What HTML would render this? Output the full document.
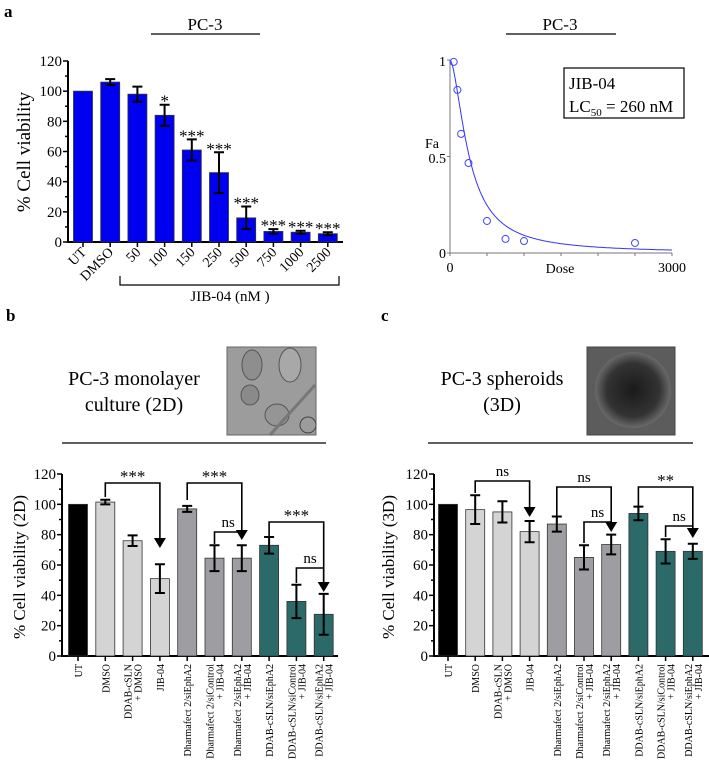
<!DOCTYPE html>
<html><head><meta charset="utf-8">
<style>
html,body{margin:0;padding:0;background:#fff;}
svg, svg text, svg tspan{font-family:"Liberation Serif","DejaVu Serif",serif;}
</style></head>
<body>
<svg id="fig" width="709" height="761" viewBox="0 0 709 761" xmlns="http://www.w3.org/2000/svg" font-family="Liberation Serif, DejaVu Serif, serif">
  <defs>
    <radialGradient id="blob" cx="50%" cy="50%" r="50%">
      <stop offset="0%" stop-color="#1a1a1a"/><stop offset="70%" stop-color="#333"/><stop offset="100%" stop-color="#6a6a6a"/>
    </radialGradient>
  </defs>
  <text x="4" y="17" font-size="17" font-weight="bold">a</text>
  <text x="6" y="321" font-size="17" font-weight="bold">b</text>
  <text x="381" y="321" font-size="17" font-weight="bold">c</text>

  <text x="205" y="30" font-size="17" text-anchor="middle">PC-3</text>
  <line x1="151" y1="34" x2="260" y2="34" stroke="#000" stroke-width="1.2"/>
  <text x="560" y="30" font-size="17" text-anchor="middle">PC-3</text>
  <line x1="506" y1="34" x2="616" y2="34" stroke="#000" stroke-width="1.2"/>

  <text x="134" y="385" font-size="20" text-anchor="middle">PC-3 monolayer</text>
  <text x="134" y="411" font-size="20" text-anchor="middle">culture (2D)</text>
  <line x1="62" y1="443" x2="326" y2="443" stroke="#000" stroke-width="1.2"/>
  <text x="502" y="385" font-size="20" text-anchor="middle">PC-3 spheroids</text>
  <text x="502" y="411" font-size="20" text-anchor="middle">(3D)</text>
  <line x1="428" y1="443" x2="693" y2="443" stroke="#000" stroke-width="1.2"/>

  <g>
    <rect x="227" y="347" width="89" height="88" fill="#9c9c9c" stroke="#666"/>
    <ellipse cx="252" cy="365" rx="10" ry="15" fill="#8e8e8e" stroke="#555"/>
    <ellipse cx="290" cy="365" rx="11" ry="17" fill="#a8a8a8" stroke="#555"/>
    <ellipse cx="250" cy="395" rx="9" ry="10" fill="#8a8a8a" stroke="#555"/>
    <ellipse cx="277" cy="415" rx="12" ry="11" fill="#959595" stroke="#555"/>
    <ellipse cx="308" cy="425" rx="8" ry="8" fill="none" stroke="#444"/>
    <line x1="270" y1="435" x2="315" y2="385" stroke="#777" stroke-width="3"/>
  </g>
  <g>
    <rect x="587" y="347" width="88" height="88" fill="#5c5c5c" stroke="#444"/>
    <ellipse cx="633" cy="390" rx="38" ry="38" fill="url(#blob)"/>
  </g>

  <g id="chartA"></g>
  <g id="chartCurve"></g>
  <g id="chartB"></g>
  <g id="chartC"></g>
</svg>
<script>
// ---------- Panel a data ----------
const aCategories = ["UT","DMSO","50","100","150","250","500","750","1000","2500"];
const aValues = [100,106,98,84,61,46,16,7,6.5,5.5];
const aErrors = [0,2,5,7,7,13.5,7.5,1.5,1,1];
const aStars = ["","","","*","***","***","***","***","***","***"];
const yTicks = [0,20,40,60,80,100,120];

// ---------- Dose-response data ----------
const doseValues = [50,100,150,250,500,750,1000,2500];
const faValues = [0.99,0.845,0.617,0.466,0.166,0.073,0.062,0.052];
const lc50 = 260;
const hillSlope = 1.7;

// ---------- Panel b data ----------
const bCategories = [["UT"],["DMSO"],["DDAB-cSLN","+ DMSO"],["JIB-04"],["Dharmafect 2/siEphA2"],["Dharmafect 2/siControl","+ JIB-04"],["Dharmafect 2/siEphA2","+ JIB-04"],["DDAB-cSLN/siEphA2"],["DDAB-cSLN/siControl","+ JIB-04"],["DDAB-cSLN/siEphA2","+ JIB-04"]];
const bValues = [100,101.5,76,51,97,64.5,64.5,73,36,27.5];
const bErrors = [0,1.5,3.5,9.5,2,8.5,8.5,5.5,11,13.5];

// ---------- Panel c data ----------
const cValues = [100,96.5,95,82,87,65,73.5,94,69,69];
const cErrors = [0,9.5,7,7,5,8,6.5,4.5,8,5];

const barColors = ["#000000","#d4d4d4","#d4d4d4","#d4d4d4","#9e9ea2","#9e9ea2","#9e9ea2","#2c6a6a","#2c6a6a","#2c6a6a"];
const NS = "http://www.w3.org/2000/svg";
const SERIF = "Liberation Serif, DejaVu Serif, serif";

function mk(parent, tag, attrs, text){
  const e = document.createElementNS(NS, tag);
  for (const k in attrs) e.setAttribute(k, attrs[k]);
  if (tag === "text") e.setAttribute("font-family", SERIF);
  if (text !== undefined) e.textContent = text;
  parent.appendChild(e);
  return e;
}

function drawAxes(g, cfg, ylabel){
  const y = v => cfg.y0 - (v/120)*(cfg.y0-cfg.y120);
  const ax = mk(g,"line",{x1:cfg.ax,y1:cfg.y120,x2:cfg.ax,y2:cfg.y0+1,stroke:"#000","stroke-width":2});
  
  
  const xx = mk(g,"line",{x1:cfg.ax-1,y1:cfg.y0,x2:cfg.xEnd,y2:cfg.y0,stroke:"#000","stroke-width":2});
  
  
  for (let v=0; v<=120; v+=10){
    const major = v%20===0;
    mk(g,"line",{x1:cfg.ax-(major?5:3),y1:y(v),x2:cfg.ax,y2:y(v),stroke:"#000","stroke-width":1.5});
  }
  yTicks.forEach(t=>{
    const tl = mk(g,"text",{x:cfg.ax-6,y:y(t)+5,"font-size":15,"text-anchor":"end"},String(t));
    
    
  });
  const yl = mk(g,"text",{x:cfg.ylx,y:cfg.yly,"font-size":cfg.ylSize,"text-anchor":"middle",transform:`rotate(-90 ${cfg.ylx} ${cfg.yly})`},ylabel);
  
  
  return y;
}

function drawBars(g, cfg, values, errors, colors, yf){
  const xs = i => cfg.x0 + i*cfg.step;
  values.forEach((v,i)=>{
    const b = mk(g,"rect",{x:xs(i)-cfg.bw/2,y:yf(v),width:cfg.bw,height:yf(0)-yf(v),fill:colors[i],stroke:"#333","stroke-width":0.8});
    
    
    if (errors[i]>0){
      const e = mk(g,"path",{d:`M${xs(i)} ${yf(v+errors[i])}V${yf(v-errors[i])}M${xs(i)-5} ${yf(v+errors[i])}H${xs(i)+5}M${xs(i)-5} ${yf(v-errors[i])}H${xs(i)+5}`,stroke:"#000","stroke-width":2,fill:"none"});
      
      
    }
    mk(g,"line",{x1:xs(i),y1:yf(0),x2:xs(i),y2:yf(0)+5,stroke:"#000","stroke-width":1.5});
  });
  return xs;
}

// ---------- Panel a ----------
(function(){
  const g = document.getElementById("chartA");
  const cfg = {ax:68,y0:242,y120:61,xEnd:343,x0:83,step:27.2,bw:19,ylx:30,yly:152,ylSize:19};
  const y = drawAxes(g,cfg,"% Cell viability");
  const aColors = aValues.map(()=> "#0000f0");
  const xs = drawBars(g,cfg,aValues,aErrors,aColors,y);
  aCategories.forEach((c,i)=>{
    const x = xs(i)+4, yy = 253;
    const t = mk(g,"text",{x:x,y:yy,"font-size":14,"text-anchor":"end",transform:`rotate(-45 ${x} ${yy})`},c);
    
    
  });
  aStars.forEach((s,i)=>{
    if(!s) return;
    const t = mk(g,"text",{x:xs(i),y:y(aValues[i]+aErrors[i])+2,"font-size":17,"text-anchor":"middle"},s);
    
    
  });
  const br = mk(g,"path",{d:`M120 276V285H339V276`,stroke:"#000","stroke-width":1.2,fill:"none"});
  
  
  const bl = mk(g,"text",{x:230,y:301,"font-size":15,"text-anchor":"middle"},"JIB-04 (nM )");
  
  
})();

// ---------- Dose response ----------
(function(){
  const g = document.getElementById("chartCurve");
  const X0=450, X1=672, Y0=253, Y1=60;
  const sx = d => X0 + d/3000*(X1-X0);
  const sy = f => Y0 - f*(Y0-Y1);
  mk(g,"line",{x1:X0,y1:Y1,x2:X0,y2:Y0,stroke:"#777","stroke-width":1});
  mk(g,"line",{x1:X0,y1:Y0,x2:X1,y2:Y0,stroke:"#777","stroke-width":1});
  [0,500,1000,1500,2000,2500,3000].forEach(d=>mk(g,"line",{x1:sx(d),y1:Y0,x2:sx(d),y2:Y0+3,stroke:"#777"}));
  [0,0.5,1].forEach(f=>mk(g,"line",{x1:X0-3,y1:sy(f),x2:X0,y2:sy(f),stroke:"#777"}));
  const lbl = [["1",446,66,"end"],["0.5",446,163,"end"],["0",446,258,"end"],["Fa",432,148,"middle"],["0",450,272,"middle"],["Dose",560,273,"middle"],["3000",672,272,"middle"]];
  lbl.forEach(l=>{
    const t = mk(g,"text",{x:l[1],y:l[2],"font-size":14,"text-anchor":l[3]},l[0]);
    
    
  });
  let d = "";
  for (let k=0;k<=300;k++){
    const dose = k*10;
    const f = 1/(1+Math.pow(dose/lc50,hillSlope));
    d += (k?"L":"M")+sx(dose).toFixed(1)+" "+sy(f).toFixed(1);
  }
  const c = mk(g,"path",{d:d,stroke:"#3333ff","stroke-width":1,fill:"none"});
  
  
  doseValues.forEach((dv,i)=>{
    const p = mk(g,"circle",{cx:sx(dv),cy:sy(faValues[i]),r:3.5,fill:"none",stroke:"#4444ff","stroke-width":1});
    
    
  });
  const box = mk(g,"rect",{x:564,y:68,width:120,height:50,fill:"#fff",stroke:"#000","stroke-width":1.2});
  
  
  const t1 = mk(g,"text",{x:569,y:89,"font-size":17},"JIB-04");
  
  
  const t2 = mk(g,"text",{x:569,y:112,"font-size":17});
  
  
  t2.innerHTML = 'LC<tspan font-size="11" dy="4">50</tspan><tspan dy="-4"> = 260 nM</tspan>';
})();

// ---------- Panels b & c ----------
function panelBC(id, cfg, values, errors, ylabel, annots){
  const g = document.getElementById(id);
  const y = drawAxes(g,cfg,ylabel);
  const xs = drawBars(g,cfg,values,errors,barColors,y);
  bCategories.forEach((lines,i)=>{
    lines.forEach((ln,j)=>{
      const x = xs(i) + (lines.length===2 ? (j===0?-1:9) : 4);
      const yy = cfg.y0+8;
      const t = mk(g,"text",{x:x,y:yy,"font-size":10,"text-anchor":"end",transform:`rotate(-90 ${x} ${yy})`},ln);
      
      
    });
  });
  annots.forEach(a=>{
    const xa=xs(a.i), xb=xs(a.j);
    const p = mk(g,"path",{d:`M${xa} ${a.yl}V${a.top}H${xb}V${a.tip-8}`,stroke:"#000","stroke-width":1.6,fill:"none"});
    
    
    if (a.arrow){
      const ar = mk(g,"path",{d:`M${xb-6} ${a.tip-10}L${xb+6} ${a.tip-10}L${xb} ${a.tip}Z`,fill:"#000"});
      
      
    }
    const t = mk(g,"text",{x:(xa+xb)/2,y:a.top-(a.txt==="ns"?5:1),"font-size":a.txt==="ns"?15:17,"text-anchor":"middle"},a.txt);
    
    
  });
}
panelBC("chartB",{ax:62,y0:656,y120:474,xEnd:338,x0:78,step:27.3,bw:19,ylx:25,yly:567,ylSize:17},
  bValues,bErrors,"% Cell viability (2D)",
  [{i:1,j:3,yl:497,top:483,tip:548,txt:"***",arrow:true},
   {i:4,j:6,yl:500,top:483,tip:540,txt:"***",arrow:true},
   {i:5,j:6,yl:544,top:532,tip:540,txt:"ns",arrow:false},
   {i:7,j:9,yl:537,top:522,tip:592,txt:"***",arrow:true},
   {i:8,j:9,yl:583,top:568,tip:592,txt:"ns",arrow:false}]);
panelBC("chartC",{ax:434,y0:656,y120:474,xEnd:709,x0:448,step:27.2,bw:19,ylx:394,yly:567,ylSize:17},
  cValues,cErrors,"% Cell viability (3D)",
  [{i:1,j:3,yl:493,top:481,tip:517,txt:"ns",arrow:true},
   {i:4,j:6,yl:522,top:487,tip:532,txt:"ns",arrow:true},
   {i:5,j:6,yl:543,top:522,tip:532,txt:"ns",arrow:false},
   {i:7,j:9,yl:512,top:487,tip:538,txt:"**",arrow:true},
   {i:8,j:9,yl:537,top:526,tip:538,txt:"ns",arrow:false}]);
</script>
</body></html>
